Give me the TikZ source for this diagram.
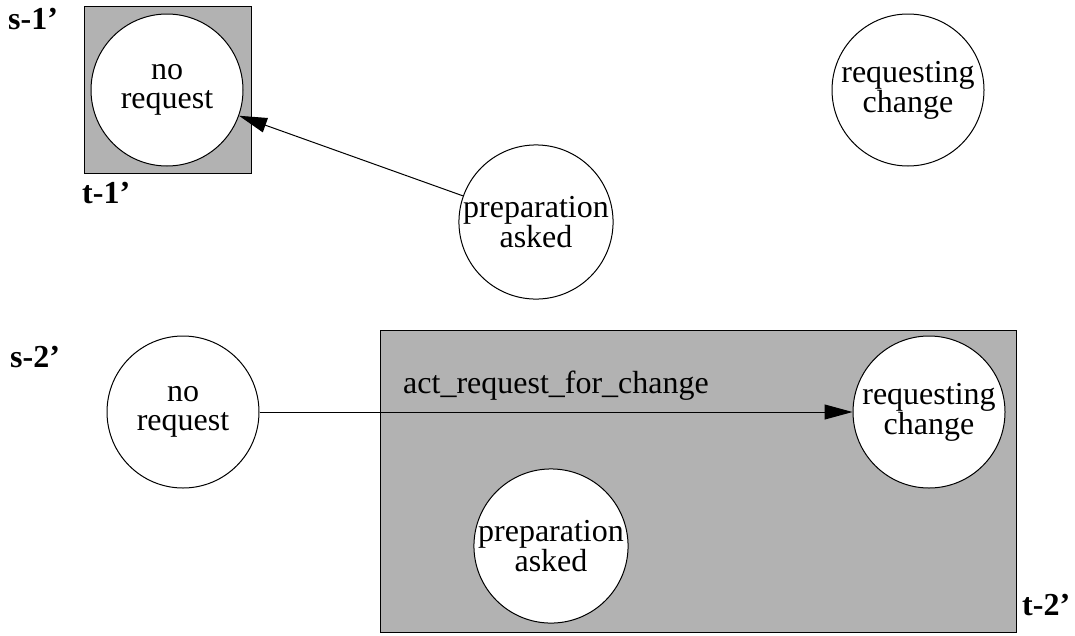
\documentclass[tikz,border=0pt]{standalone}
\usepackage{fontspec}
\setmainfont{Liberation Serif}
\usetikzlibrary{arrows.meta,positioning}
\tikzset{
  trans/.style  = {-{Triangle[length=28pt,width=15pt]}, line width=1pt},
  state/.style  = {draw, circle, fill=white, minimum size=152pt,
                   inner sep=0pt, align=center, line width=1pt,
                   font=\fontsize{32}{29}\selectfont},
  region/.style = {draw, fill=black!30, line width=1pt},
  tag/.style    = {font=\fontsize{32}{32}\selectfont\bfseries,
                   inner sep=0pt, anchor=base west},
  act/.style    = {font=\fontsize{32}{32}\selectfont, inner sep=0pt},
}

\begin{document}
\begin{tikzpicture}[x=1pt, y=-1pt]
    \useasboundingbox (0,0) rectangle (1075,635);

    % First snapshot (s-1', t-1')
    \draw[region] (84,6) rectangle (251,173);
    \node[state] (nr1) at (167,90)  {no\\request};
    \node[state] (rc1) at (908,90)  {requesting\\change};
    \node[state] (pa1) at (536,222) {preparation\\asked};
    \draw[trans] (pa1) -- (nr1);
    \node[tag] (s1) at (8,29)   {s-1'};
    \node[tag] (t1) at (82,203) {t-1'};

    % Second snapshot (s-2', t-2')
    \draw[region] (380,330) rectangle (1016,632);
    \node[state] (nr2) at (183,412) {no\\request};
    \node[state] (rc2) at (929,412) {requesting\\change};
    \node[state] (pa2) at (551,546) {preparation\\asked};
    \draw[trans] (nr2) -- node[act, above=11pt] {act\_request\_for\_change} (rc2);
    \node[tag] (s2) at (10,367)   {s-2'};
    \node[tag] (t2) at (1022,615) {t-2'};

\end{tikzpicture}
\end{document}
